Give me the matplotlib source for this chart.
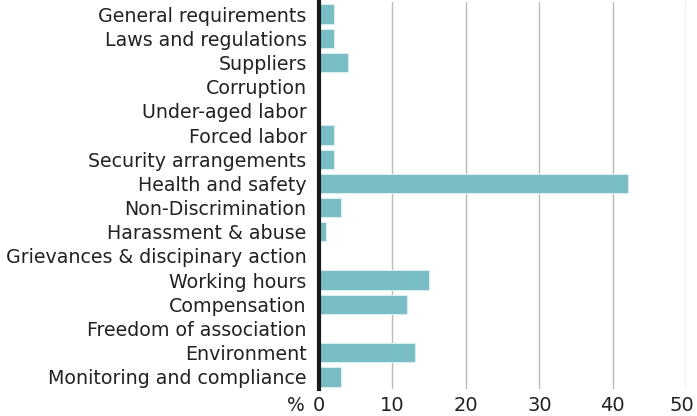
import matplotlib
matplotlib.use("Agg")
from matplotlib import pyplot as plt
from matplotlib import transforms

# categories top to bottom and their shares (%)
categories = ['General requirements', 'Laws and regulations', 'Suppliers', 'Corruption',
              'Under-aged labor', 'Forced labor', 'Security arrangements', 'Health and safety',
              'Non-Discrimination', 'Harassment & abuse', 'Grievances & discipinary action',
              'Working hours', 'Compensation', 'Freedom of association', 'Environment',
              'Monitoring and compliance']
values = [2, 2, 4, 0, 0, 2, 2, 42, 3, 1, 0, 15, 12, 0, 13, 3]
xticks = [0, 10, 20, 30, 40, 50]

plt.rcParams['font.family'] = ['DejaVu Sans']

fig = plt.figure(figsize=(6.97, 4.16), dpi=100)
ax = fig.add_axes([0.4577, 0.065, 0.527, 0.930])

ypos = list(range(len(categories)))
ax.barh(ypos, values, height=0.8, color='#78bcc4', edgecolor='#d8eef0', linewidth=0.8, zorder=3)

ax.set_ylim(len(categories) - 0.5, -0.5)
ax.set_xlim(0, 50)
ax.set_yticks(ypos)
ax.set_yticklabels(categories, fontsize=13.7, color='#222222')
ax.set_xticks(xticks)
ax.set_xticklabels([str(t) for t in xticks], fontsize=14, color='#222222')
ax.tick_params(axis='x', length=0, pad=5)
ax.tick_params(axis='y', length=0, pad=9)

# nudge the last label so it stays inside the image
last = ax.get_xticklabels()[-1]
last.set_transform(last.get_transform() + transforms.ScaledTranslation(-3 / 72, 0, fig.dpi_scale_trans))

ax.grid(axis='x', color='#bbbbbb', linewidth=1, zorder=0)
for s in ['top', 'right', 'bottom']:
    ax.spines[s].set_visible(False)
ax.spines['left'].set_linewidth(3)
ax.spines['left'].set_color('#1a1a1a')
ax.spines['left'].set_zorder(4)

# percent sign next to the zero tick
ax.annotate('%', xy=(0, 0), xycoords=('data', 'axes fraction'), xytext=(-10, -5),
            textcoords='offset points', ha='right', va='top', fontsize=13.5, color='#222222')

fig.savefig('out.png', dpi=100)
